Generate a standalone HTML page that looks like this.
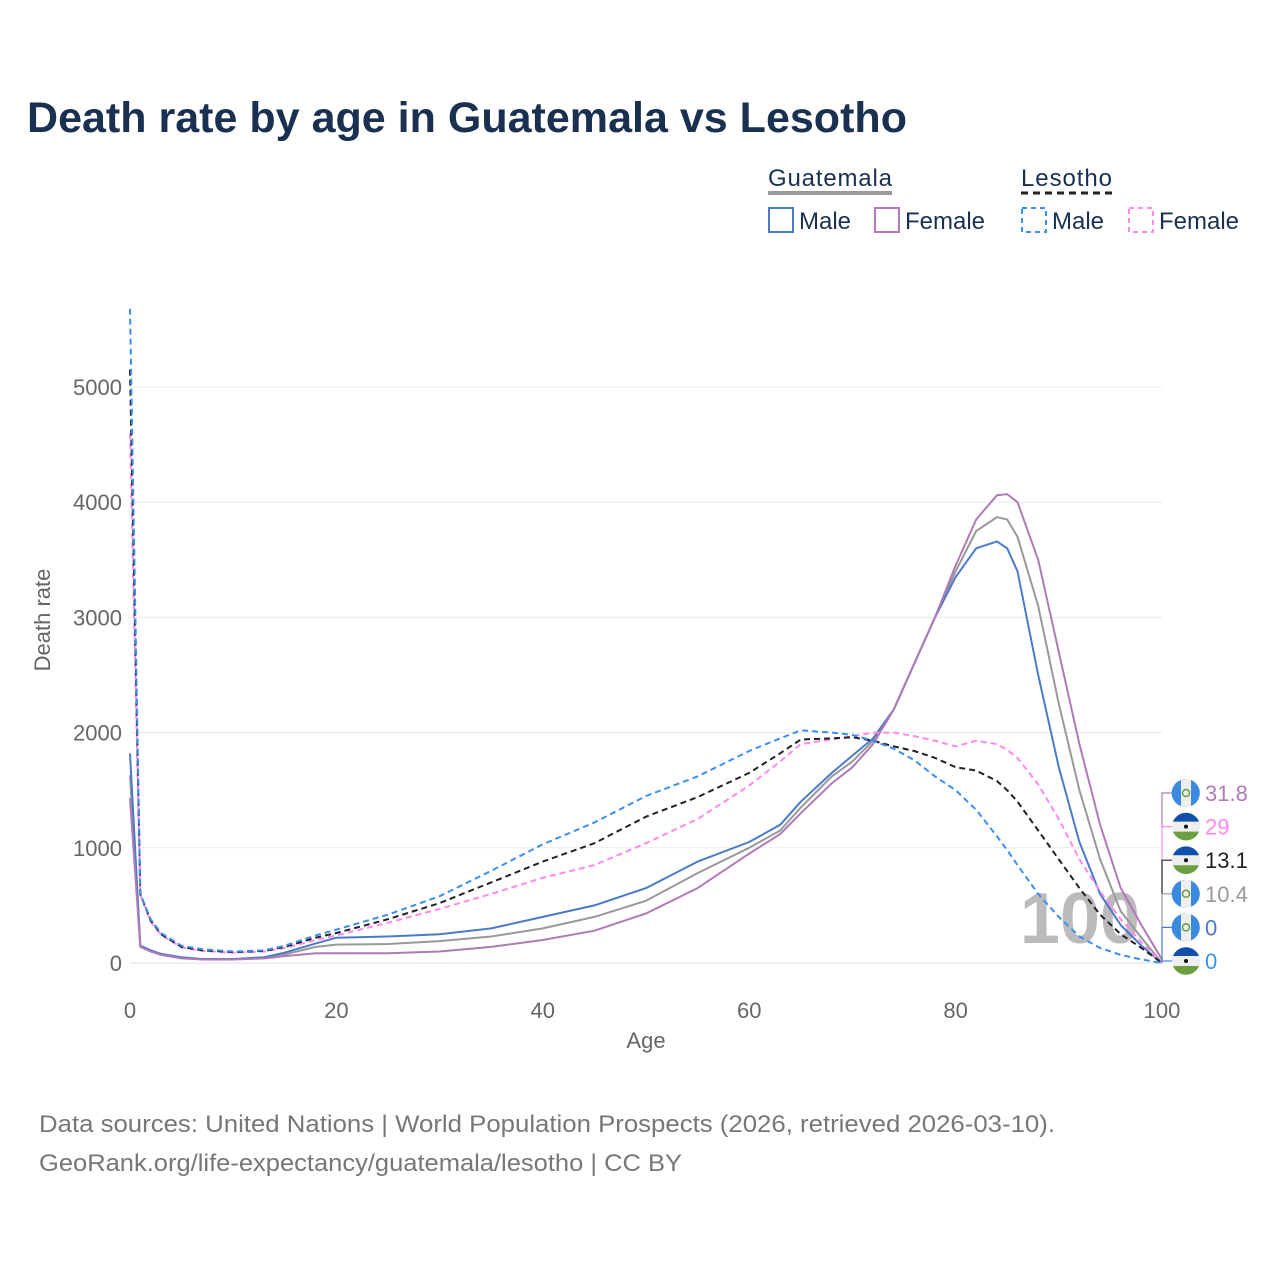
<!DOCTYPE html>
<html><head><meta charset="utf-8"><style>
body{margin:0;background:#fff;font-family:"Liberation Sans",sans-serif;}
svg text{font-family:"Liberation Sans",sans-serif;}
</style></head><body>
<svg id="chart" width="1280" height="1280" viewBox="0 0 1280 1280" xmlns="http://www.w3.org/2000/svg">
<rect width="1280" height="1280" fill="#fff"/>
<text x="27" y="132" font-size="43" font-weight="bold" fill="#1a3050" textLength="880" lengthAdjust="spacingAndGlyphs">Death rate by age in Guatemala vs Lesotho</text>
<g id="legend">
<text x="768" y="186" font-size="24" fill="#1a3050" textLength="124">Guatemala</text>
<line x1="768" y1="193" x2="892" y2="193" stroke="#999" stroke-width="4"/>
<text x="1021" y="186" font-size="24" fill="#1a3050" textLength="91">Lesotho</text>
<line x1="1021" y1="193" x2="1112" y2="193" stroke="#222" stroke-width="3" stroke-dasharray="7,5"/>
<g><rect x="769" y="208" width="24" height="24" fill="none" stroke="#4a7bc8" stroke-width="2"/><text x="799" y="229" font-size="24" fill="#1a3050">Male</text></g>
<g><rect x="875" y="208" width="24" height="24" fill="none" stroke="#b07ab8" stroke-width="2"/><text x="905" y="229" font-size="24" fill="#1a3050">Female</text></g>
<g><rect x="1022" y="208" width="24" height="24" fill="none" stroke="#3b8ff0" stroke-width="2" stroke-dasharray="5,4"/><text x="1052" y="229" font-size="24" fill="#1a3050">Male</text></g>
<g><rect x="1129" y="208" width="24" height="24" fill="none" stroke="#ff88ee" stroke-width="2" stroke-dasharray="5,4"/><text x="1159" y="229" font-size="24" fill="#1a3050">Female</text></g>
</g>
<g id="grid"></g>
<text x="1140" y="943" text-anchor="end" font-size="72" font-weight="bold" fill="#bbb">100</text>
<g id="series"></g>
<g id="labels"></g>
<text x="646" y="1048" text-anchor="middle" font-size="22" fill="#666">Age</text>
<text transform="translate(50,620) rotate(-90)" text-anchor="middle" font-size="22" fill="#666">Death rate</text>
<text x="39" y="1132" font-size="24" fill="#777" textLength="1016" lengthAdjust="spacingAndGlyphs">Data sources: United Nations | World Population Prospects (2026, retrieved 2026-03-10).</text>
<text x="39" y="1171" font-size="24" fill="#777" textLength="643" lengthAdjust="spacingAndGlyphs">GeoRank.org/life-expectancy/guatemala/lesotho | CC BY</text>
</svg>
<script>
const ages=[0,1,2,3,5,7,10,13,15,18,20,25,30,35,40,45,50,55,60,63,65,68,70,72,74,76,78,80,82,84,85,86,88,90,92,94,96,98,100];
const gtmMale=[1820,150,110,80,50,35,35,50,90,170,220,230,250,300,400,500,650,880,1050,1200,1400,1650,1800,1950,2200,2600,3000,3350,3600,3660,3600,3400,2500,1700,1050,600,330,150,0];
const gtmTotal=[1630,145,105,75,45,32,32,45,75,140,160,165,190,230,300,400,540,780,1000,1150,1350,1620,1750,1930,2200,2600,3000,3400,3750,3870,3850,3700,3100,2250,1500,900,450,220,0];
const gtmFemale=[1430,140,100,70,40,30,30,40,60,85,85,85,100,140,200,280,430,650,950,1120,1300,1560,1700,1900,2200,2600,3000,3450,3850,4060,4070,4000,3500,2700,1900,1200,650,330,30];
const lsoMale=[5680,600,380,260,150,120,100,110,150,240,290,420,580,800,1030,1220,1450,1620,1840,1950,2020,2000,1980,1930,1860,1760,1620,1500,1330,1100,980,850,600,400,230,130,70,30,0];
const lsoTotal=[5150,600,370,250,140,110,95,105,140,220,260,380,520,700,880,1040,1270,1440,1650,1820,1940,1950,1960,1930,1880,1840,1780,1700,1670,1580,1500,1400,1150,900,650,420,250,130,0];
const lsoFemale=[4600,590,360,245,135,105,90,100,130,200,240,350,470,600,740,850,1040,1250,1540,1750,1900,1940,1970,2000,2000,1970,1930,1880,1930,1900,1850,1780,1550,1250,900,620,380,180,0];
const xTicks=[0,20,40,60,80,100];
const yTicks=[0,1000,2000,3000,4000,5000];
const endNames=["31.8","29","13.1","10.4","0","0"];
const NS="http://www.w3.org/2000/svg";
const X=a=>130+a*10.32;
const Y=v=>963-v*0.1152;
const grid=document.getElementById('grid');
function mk(t,attrs,parent){const e=document.createElementNS(NS,t);for(const k in attrs)e.setAttribute(k,attrs[k]);parent.appendChild(e);return e;}
yTicks.forEach(v=>{
  const l=mk('line',{x1:130,x2:1162,y1:Y(v),y2:Y(v),stroke:v===0?'#ddd':'#eaeaea','stroke-width':1},grid);
  
  
  const t=mk('text',{x:122,y:Y(v)+8,'text-anchor':'end','font-size':22,fill:'#666'},grid);
  t.textContent=v;
  
  
});
xTicks.forEach(v=>{
  const t=mk('text',{x:X(v),y:1018,'text-anchor':'middle','font-size':22,fill:'#666'},grid);
  t.textContent=v;
  
  
});
const series=[
  {d:gtmTotal,c:'#999',dash:'',n:'guatemala-total-line'},
  {d:gtmMale,c:'#4a7bc8',dash:'',n:'guatemala-male-line'},
  {d:gtmFemale,c:'#b07ab8',dash:'',n:'guatemala-female-line'},
  {d:lsoFemale,c:'#ff88ee',dash:'6,4',n:'lesotho-female-line'},
  {d:lsoTotal,c:'#222',dash:'6,4',n:'lesotho-total-line'},
  {d:lsoMale,c:'#3b8ff0',dash:'6,4',n:'lesotho-male-line'}
];
const sg=document.getElementById('series');
series.forEach(s=>{
  const p=mk('path',{d:s.d.map((v,i)=>(i?'L':'M')+X(ages[i]).toFixed(1)+','+Y(v).toFixed(1)).join(''),fill:'none',stroke:s.c,'stroke-width':2,'stroke-linejoin':'round','stroke-dasharray':s.dash},sg);
  
  
});
const lg=document.getElementById('labels');
const labs=[{c:'#b07ab8',f:'g'},{c:'#ff88ee',f:'l'},{c:'#222',f:'l'},{c:'#999',f:'g'},{c:'#4a7bc8',f:'g'},{c:'#3b8ff0',f:'l'}];
labs.forEach((L,i)=>{
  const y=793+i*33.6;
  const yEnd=i<5?y+33.6:963;
  mk('path',{d:`M1172,${y}H1162V${Math.min(yEnd,963)}`,fill:'none',stroke:L.c,'stroke-width':1.2},lg);
  if(L.f==='g'){
    mk('circle',{cx:1186,cy:y,r:14,fill:'#eee'},lg);
    mk('path',{d:`M1186,${y-14}A14,14 0 0 0 1186,${y+14}L1181,${y+13}L1181,${y-13}Z`,fill:'#3a8be0'},lg);
    mk('path',{d:`M1191,${y-13}A14,14 0 0 1 1191,${y+13}Z`,fill:'#3a8be0'},lg);
    mk('path',{d:`M1177,${y-11}A14,14 0 0 0 1177,${y+11}L1181,${y+13}L1181,${y-13}Z`,fill:'#3a8be0'},lg);
    mk('circle',{cx:1186,cy:y,r:3.5,fill:'none',stroke:'#6a9a40','stroke-width':1.5},lg);
  } else {
    mk('circle',{cx:1186,cy:y,r:14,fill:'#eee'},lg);
    mk('path',{d:`M1173,${y-5}A14,14 0 0 1 1199,${y-5}Z`,fill:'#1050a8'},lg);
    mk('path',{d:`M1173,${y+5}A14,14 0 0 0 1199,${y+5}Z`,fill:'#6aa040'},lg);
    mk('circle',{cx:1186,cy:y,r:2,fill:'#111'},lg);
  }
  const t=mk('text',{x:1205,y:y+8,'font-size':22,fill:L.c},lg);
  t.textContent=endNames[i];
  
  
});
</script>
</body></html>
